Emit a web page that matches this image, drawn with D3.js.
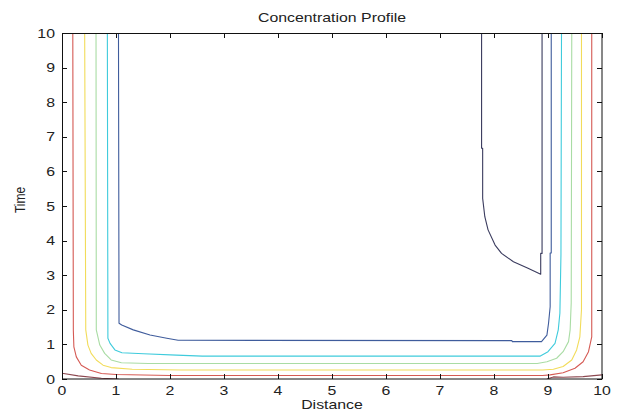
<!DOCTYPE html>
<html>
<head>
<meta charset="utf-8">
<script src="https://cdn.jsdelivr.net/npm/d3@7"></script>
<style>
  html, body { margin: 0; padding: 0; background: #fff; }
  svg { display: block; }
  text { font-family: "Liberation Sans", Arial, sans-serif; fill: #222; }
</style>
</head>
<body>
<div id="chart"></div>
<script>
// Contour lines of concentration over distance (x) and time (y).
// Each line is a list of [distance, time] vertices.
const levelMaroon = [[0, 0.165], [0.30, 0.09], [0.73, 0.02], [1.05, 0.0]];
const levelMaroonRight = [[8.98, 0.0], [9.10, 0.06], [9.28, 0.05], [9.65, 0.07], [10, 0.12]];
const levelRed = [
  [0.20, 10], [0.21, 1.4], [0.22, 0.93], [0.265, 0.64], [0.357, 0.40], [0.51, 0.26],
  [0.73, 0.16], [1.0, 0.13], [2.0, 0.10], [8.9, 0.10], [9.04, 0.12], [9.28, 0.18],
  [9.5, 0.31], [9.65, 0.50], [9.75, 0.79], [9.81, 1.22], [9.81, 10]
];
const levelYellow = [
  [0.42, 10], [0.44, 1.42], [0.48, 0.98], [0.54, 0.74], [0.635, 0.55], [0.76, 0.40],
  [0.91, 0.33], [1.3, 0.28], [2.2, 0.26], [8.9, 0.26], [9.1, 0.28], [9.28, 0.36],
  [9.44, 0.55], [9.53, 0.84], [9.59, 1.22], [9.62, 2.0], [9.62, 10]
];
const levelGreen = [
  [0.63, 10], [0.635, 1.42], [0.70, 0.98], [0.79, 0.74], [0.91, 0.55], [1.10, 0.47],
  [1.6, 0.45], [8.8, 0.45], [8.98, 0.50], [9.16, 0.60], [9.28, 0.79], [9.38, 1.08],
  [9.41, 1.42], [9.43, 2.2], [9.44, 10]
];
const levelCyan = [
  [0.84, 10], [0.85, 1.18], [0.89, 1.03], [0.98, 0.84], [1.11, 0.76], [1.51, 0.73],
  [2.12, 0.69], [2.6, 0.66], [8.85, 0.66], [9.0, 0.79], [9.13, 1.03], [9.19, 1.42],
  [9.22, 1.90], [9.24, 3.6], [9.25, 10]
];
const levelBlue = [
  [1.046, 10], [1.056, 1.61], [1.106, 1.56], [1.32, 1.42], [1.63, 1.27], [1.94, 1.18],
  [2.15, 1.12], [8.33, 1.11], [8.34, 1.08], [8.88, 1.08], [8.98, 1.27], [9.01, 1.61],
  [9.04, 2.09], [9.04, 3.64], [9.06, 3.64], [9.06, 10]
];
const levelNavy = [
  [7.77, 10], [7.77, 6.67], [7.79, 6.67], [7.79, 5.22], [7.83, 4.69], [7.89, 4.31],
  [8.02, 3.87], [8.14, 3.63], [8.36, 3.39], [8.63, 3.20], [8.865, 3.03],
  [8.865, 3.63], [8.89, 3.63], [8.89, 10]
];

const contourLines = [
  { pts: levelMaroon, color: "#8c4850" },
  { pts: levelMaroonRight, color: "#8c4850" },
  { pts: levelRed, color: "#d55a54" },
  { pts: levelYellow, color: "#f2dc5a" },
  { pts: levelGreen, color: "#a9dca4" },
  { pts: levelCyan, color: "#3fcbdc" },
  { pts: levelBlue, color: "#3f5c9c" },
  { pts: levelNavy, color: "#3a3b5e" }
];

const xTicks = [0, 1, 2, 3, 4, 5, 6, 7, 8, 9, 10];
const yTicks = [0, 1, 2, 3, 4, 5, 6, 7, 8, 9, 10];
const titleText = "Concentration Profile";
const xLabelText = "Distance";
const yLabelText = "Time";

const W = 617, H = 412;
const margin = { left: 62, right: 15, top: 33, bottom: 33 };
const iw = W - margin.left - margin.right;
const ih = H - margin.top - margin.bottom;
const stretch = 1.22; // horizontal stretch of the lettering
const fontSize = 13;

const svg = d3.select("#chart").append("svg")
  .attr("width", W).attr("height", H);

const g = svg.append("g").attr("transform", `translate(${margin.left},${margin.top})`);

const x = d3.scaleLinear().domain([0, 10]).range([0, iw]);
const y = d3.scaleLinear().domain([0, 10]).range([ih, 0]);

// clip contours to the plot box
svg.append("defs").append("clipPath").attr("id", "plotclip")
  .append("rect").attr("width", iw).attr("height", ih);

const line = d3.line().x(d => x(d[0])).y(d => y(d[1]));

g.append("g").attr("clip-path", "url(#plotclip)")
  .selectAll("path").data(contourLines).join("path")
  .attr("d", d => line(d.pts))
  .attr("fill", "none")
  .attr("stroke", d => d.color)
  .attr("stroke-width", 1.1)
  .attr("stroke-linejoin", "round");

// inward ticks on all four sides
const tickLen = 5;
const ticks = g.append("g").attr("stroke", "#111").attr("stroke-width", 1);
xTicks.forEach(v => {
  const px = Math.round(x(v)) + 0.5;
  ticks.append("line").attr("x1", px).attr("x2", px).attr("y1", ih).attr("y2", ih - tickLen);
  ticks.append("line").attr("x1", px).attr("x2", px).attr("y1", 0).attr("y2", tickLen);
});
yTicks.forEach(v => {
  const py = Math.round(y(v)) + 0.5;
  ticks.append("line").attr("x1", 0).attr("x2", tickLen).attr("y1", py).attr("y2", py);
  ticks.append("line").attr("x1", iw).attr("x2", iw - tickLen).attr("y1", py).attr("y2", py);
});

// axis box
g.append("rect").attr("x", 0.5).attr("y", 0.5).attr("width", iw - 0.5).attr("height", ih - 0.5)
  .attr("fill", "none").attr("stroke", "#111").attr("stroke-width", 1);

function stretchedText(parent, tx, ty, str, anchor, size) {
  return parent.append("text")
    .attr("transform", `translate(${tx},${ty}) scale(${stretch},1)`)
    .attr("text-anchor", anchor)
    .attr("font-size", size)
    .text(str);
}

// tick labels
xTicks.forEach(v => stretchedText(g, x(v), ih + 16, v, "middle", fontSize));
yTicks.forEach(v => stretchedText(g, -7, y(v) + 4.5, v, "end", fontSize));

// title and axis labels
stretchedText(svg, margin.left + iw / 2, 22, titleText, "middle", fontSize);
stretchedText(svg, margin.left + iw / 2, 409, xLabelText, "middle", fontSize);
svg.append("text")
  .attr("transform", `translate(25,200) rotate(-90) scale(1,${stretch})`)
  .attr("text-anchor", "middle")
  .attr("font-size", fontSize - 1)
  .text(yLabelText);
</script>
</body>
</html>
